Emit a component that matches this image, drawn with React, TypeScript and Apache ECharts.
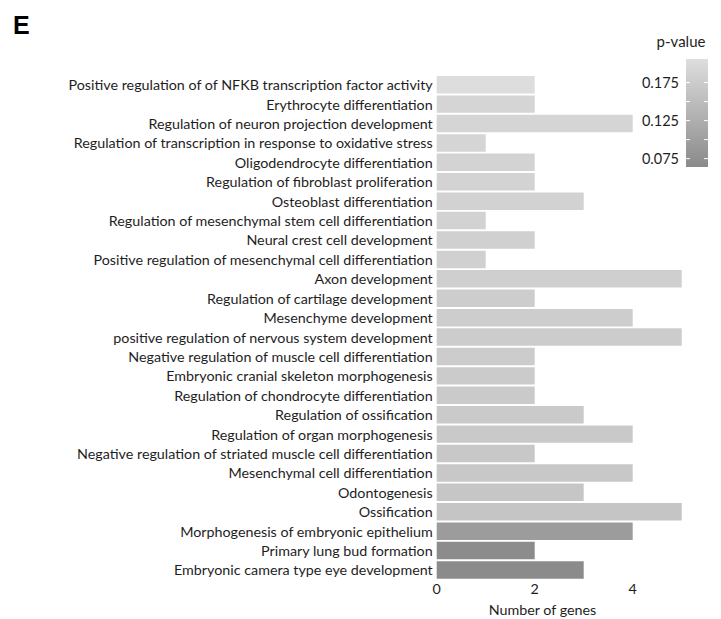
import React, { useEffect, useRef } from "react";
import * as echarts from "echarts";

const categories: string[] = [
  "Positive regulation of of NFKB transcription factor activity",
  "Erythrocyte differentiation",
  "Regulation of neuron projection development",
  "Regulation of transcription in response to oxidative stress",
  "Oligodendrocyte differentiation",
  "Regulation of fibroblast proliferation",
  "Osteoblast differentiation",
  "Regulation of mesenchymal stem cell differentiation",
  "Neural crest cell development",
  "Positive regulation of mesenchymal cell differentiation",
  "Axon development",
  "Regulation of cartilage development",
  "Mesenchyme development",
  "positive regulation of nervous system development",
  "Negative regulation of muscle cell differentiation",
  "Embryonic cranial skeleton morphogenesis",
  "Regulation of chondrocyte differentiation",
  "Regulation of ossification",
  "Regulation of organ morphogenesis",
  "Negative regulation of striated muscle cell differentiation",
  "Mesenchymal cell differentiation",
  "Odontogenesis",
  "Ossification",
  "Morphogenesis of embryonic epithelium",
  "Primary lung bud formation",
  "Embryonic camera type eye development",
];

const geneCounts: number[] = [2, 2, 4, 1, 2, 2, 3, 1, 2, 1, 5, 2, 4, 5, 2, 2, 2, 3, 4, 2, 4, 3, 5, 4, 2, 3];

const pValues: number[] = [
  0.205, 0.19, 0.19, 0.19, 0.188, 0.187, 0.185, 0.185, 0.183, 0.182, 0.18, 0.178, 0.177,
  0.176, 0.175, 0.174, 0.173, 0.172, 0.17, 0.169, 0.168, 0.166, 0.163, 0.095, 0.068, 0.066,
];

const xTicks: number[] = [0, 2, 4];
const legendLabels: number[] = [0.075, 0.125, 0.175];
const legendTicks: number[] = [0.075, 0.1, 0.125, 0.15, 0.175];

const P_MIN = 0.064;
const P_MAX = 0.206;
const COLOR_LOW = "#8a8a8a";
const COLOR_HIGH = "#dedede";
const FONT = "Lato";
const TEXT_COLOR = "#1e1e1e";

export default function App() {
  const ref = useRef<HTMLDivElement>(null);

  useEffect(() => {
    if (!ref.current) return;
    const chart = echarts.init(ref.current, null, { renderer: "svg" });

    const barX = 686;
    const barY = 59;
    const barW = 22;
    const barH = 108;
    const yOf = (v: number) => barY + ((P_MAX - v) / (P_MAX - P_MIN)) * barH;

    const graphics: any[] = [
      {
        type: "text",
        x: 13,
        y: 12,
        style: {
          text: "E",
          font: "bold 25px 'Liberation Sans', Arial",
          fill: "#000",
          verticalAlign: "top",
        },
      },
      {
        type: "text",
        x: 681,
        y: 41,
        style: {
          text: "p-value",
          font: `15px ${FONT}`,
          fill: TEXT_COLOR,
          align: "center",
          verticalAlign: "middle",
        },
      },
      {
        type: "text",
        x: 542.5,
        y: 609.5,
        style: {
          text: "Number of genes",
          font: `14.3px ${FONT}`,
          fill: TEXT_COLOR,
          align: "center",
          verticalAlign: "middle",
        },
      },
      {
        type: "rect",
        shape: { x: barX, y: barY, width: barW, height: barH },
        style: {
          fill: new echarts.graphic.LinearGradient(0, 0, 0, 1, [
            { offset: 0, color: COLOR_HIGH },
            { offset: 1, color: COLOR_LOW },
          ]),
        },
      },
    ];
    legendTicks.forEach((v) => {
      const y = yOf(v);
      graphics.push({
        type: "line",
        shape: { x1: barX, y1: y, x2: barX + 4, y2: y },
        style: { stroke: "#fff", lineWidth: 1 },
      });
      graphics.push({
        type: "line",
        shape: { x1: barX + barW - 4, y1: y, x2: barX + barW, y2: y },
        style: { stroke: "#fff", lineWidth: 1 },
      });
    });
    legendLabels.forEach((v) => {
      graphics.push({
        type: "text",
        x: 679,
        y: yOf(v),
        style: {
          text: v.toFixed(3),
          font: `14.5px ${FONT}`,
          fill: TEXT_COLOR,
          align: "right",
          verticalAlign: "middle",
        },
      });
    });

    chart.setOption({
      animation: false,
      backgroundColor: "#fff",
      grid: { left: 436.7, top: 75, width: 245, height: 504.7, containLabel: false },
      xAxis: {
        type: "value",
        min: 0,
        max: 5,
        axisLine: { show: false },
        axisTick: { show: false },
        splitLine: { show: false },
        axisLabel: {
          customValues: xTicks,
          fontFamily: FONT,
          fontSize: 14.3,
          color: TEXT_COLOR,
          margin: 2,
        },
      },
      yAxis: {
        type: "category",
        data: categories,
        inverse: true,
        axisLine: { show: false },
        axisTick: { show: false },
        splitLine: { show: false },
        axisLabel: {
          fontFamily: FONT,
          fontSize: 14.3,
          color: TEXT_COLOR,
          margin: 4,
          interval: 0,
        },
      },
      visualMap: {
        show: false,
        type: "continuous",
        dimension: 2,
        min: P_MIN,
        max: P_MAX,
        inRange: { color: [COLOR_LOW, COLOR_HIGH] },
      },
      series: [
        {
          type: "bar",
          barCategoryGap: "10%",
          encode: { x: 0, y: 1 },
          data: categories.map((c, i) => [geneCounts[i], c, pValues[i]]),
        },
      ],
      graphic: graphics,
    });

    return () => chart.dispose();
  }, []);

  return (
    <div
      ref={ref}
      style={{ position: "absolute", left: 0, top: 0, width: 721, height: 619 }}
    />
  );
}
